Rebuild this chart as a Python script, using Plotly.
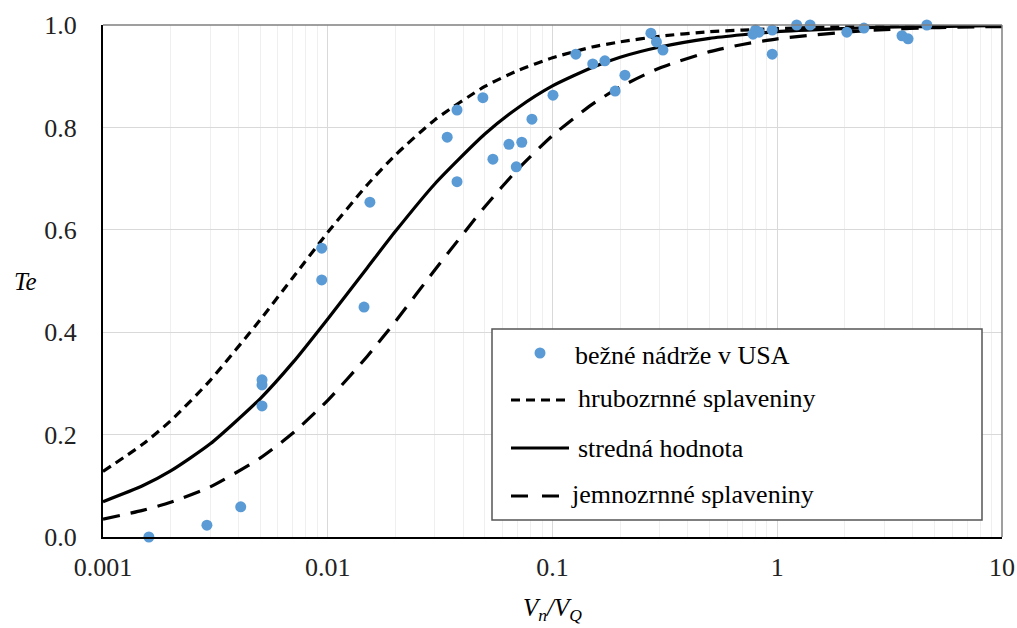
import plotly.graph_objects as go

# ---- data ----
curve_x = [0.001, 0.0015, 0.002, 0.003, 0.005, 0.007, 0.01, 0.015, 0.02, 0.03, 0.05, 0.07,
           0.1, 0.15, 0.2, 0.3, 0.5, 0.7, 1, 2, 3, 5, 10]
coarse_te = [0.128, 0.181, 0.227, 0.306, 0.424, 0.507, 0.595, 0.688, 0.746, 0.815, 0.880, 0.911,
             0.936, 0.957, 0.967, 0.978, 0.987, 0.990, 0.993, 0.997, 0.998, 0.999, 0.999]
mean_te = [0.069, 0.100, 0.129, 0.182, 0.270, 0.341, 0.426, 0.526, 0.597, 0.690, 0.787, 0.838,
           0.881, 0.917, 0.937, 0.957, 0.974, 0.981, 0.987, 0.993, 0.996, 0.997, 0.999]
fine_te = [0.035, 0.052, 0.068, 0.098, 0.154, 0.203, 0.267, 0.353, 0.421, 0.522, 0.645, 0.718,
           0.784, 0.845, 0.879, 0.916, 0.948, 0.962, 0.973, 0.986, 0.991, 0.995, 0.997]

usa_x = [0.0016, 0.0029, 0.0041, 0.0051, 0.0051, 0.0051, 0.0094, 0.0094, 0.0145, 0.0154,
         0.034, 0.0376, 0.0376, 0.049, 0.0543, 0.064, 0.069, 0.073, 0.081, 0.1005,
         0.127, 0.151, 0.171, 0.19, 0.21, 0.274, 0.29, 0.31, 0.78, 0.80,
         0.83, 0.95, 0.95, 1.22, 1.40, 2.04, 2.43, 3.59, 3.82, 4.63]
usa_te = [0.0, 0.023, 0.059, 0.307, 0.297, 0.256, 0.564, 0.502, 0.449, 0.654,
          0.781, 0.834, 0.694, 0.858, 0.738, 0.767, 0.723, 0.771, 0.816, 0.863,
          0.943, 0.924, 0.930, 0.871, 0.902, 0.984, 0.967, 0.951, 0.982, 0.99,
          0.986, 0.99, 0.943, 1.0, 1.0, 0.986, 0.994, 0.979, 0.973, 1.0]

x_tickvals = [0.001, 0.01, 0.1, 1, 10]
x_ticktext = ["0.001", "0.01", "0.1", "1", "10"]

legend_labels = ["bežné nádrže v USA", "hrubozrnné splaveniny", "stredná hodnota", "jemnozrnné splaveniny"]

# ---- layout geometry ----
W, H = 1017, 628
L, R, T, B = 103, 15, 25, 91
PW, PH = W - L - R, H - T - B
FONT = '"Liberation Serif", "DejaVu Serif", serif'
BLUE = "#5B9BD5"

def pxx(p):
    return (p - L) / PW

def pxy(p):
    return (H - B - p) / PH

fig = go.Figure()
fig.add_trace(go.Scatter(x=curve_x, y=coarse_te, mode="lines", name=legend_labels[1],
                         line=dict(color="black", width=3.2, dash="9px,6px", shape="spline", smoothing=0.6)))
fig.add_trace(go.Scatter(x=curve_x, y=mean_te, mode="lines", name=legend_labels[2],
                         line=dict(color="black", width=3.2, shape="spline", smoothing=0.6)))
fig.add_trace(go.Scatter(x=curve_x, y=fine_te, mode="lines", name=legend_labels[3],
                         line=dict(color="black", width=3.2, dash="17px,11px", shape="spline", smoothing=0.6)))
fig.add_trace(go.Scatter(x=usa_x, y=usa_te, mode="markers", name=legend_labels[0],
                         marker=dict(color=BLUE, size=11), cliponaxis=False))

shapes = []
shapes.append(dict(type="line", xref="paper", yref="paper", x0=0, x1=1, y0=1, y1=1,
                   line=dict(color="#7f7f7f", width=1.5)))
shapes.append(dict(type="line", xref="paper", yref="paper", x0=1, x1=1, y0=0, y1=1,
                   line=dict(color="#7f7f7f", width=1.5)))
shapes.append(dict(type="rect", xref="paper", yref="paper", x0=pxx(492), x1=pxx(982),
                   y0=pxy(520), y1=pxy(329), line=dict(color="#555555", width=1.5),
                   fillcolor="white", layer="above"))
r = 5.5
shapes.append(dict(type="circle", xref="paper", yref="paper", x0=pxx(540 - r), x1=pxx(540 + r),
                   y0=pxy(353 + r), y1=pxy(353 - r), fillcolor=BLUE, line=dict(width=0), layer="above"))
shapes.append(dict(type="line", xref="paper", yref="paper", x0=pxx(511), x1=pxx(567),
                   y0=pxy(400), y1=pxy(400), line=dict(color="black", width=3.2, dash="9px,6px"), layer="above"))
shapes.append(dict(type="line", xref="paper", yref="paper", x0=pxx(511), x1=pxx(569),
                   y0=pxy(448), y1=pxy(448), line=dict(color="black", width=3.2), layer="above"))
shapes.append(dict(type="line", xref="paper", yref="paper", x0=pxx(511), x1=pxx(559),
                   y0=pxy(496), y1=pxy(496), line=dict(color="black", width=3.2, dash="17px,14px"), layer="above"))

annotations = []
leg_pos = [(573, 355), (576, 398), (576, 448), (569, 494)]
for lab, (lx, ly) in zip(legend_labels, leg_pos):
    annotations.append(dict(text=lab, xref="paper", yref="paper", x=pxx(lx), y=pxy(ly),
                            xanchor="left", yanchor="middle", showarrow=False,
                            font=dict(family=FONT, size=26, color="black")))
annotations.append(dict(text="<i>Te</i>", xref="paper", yref="paper", x=pxx(25), y=pxy(281),
                        xanchor="center", yanchor="middle", showarrow=False,
                        font=dict(family=FONT, size=25, color="black")))
annotations.append(dict(text="<i>V<sub>n</sub>/V<sub>Q</sub></i>", xref="paper", yref="paper",
                        x=0.5, y=pxy(609), xanchor="center", yanchor="middle", showarrow=False,
                        font=dict(family=FONT, size=25, color="black")))

fig.update_layout(
    template="none",
    width=W, height=H,
    margin=dict(l=L, r=R, t=T, b=B, pad=0),
    paper_bgcolor="white", plot_bgcolor="white",
    showlegend=False,
    shapes=shapes, annotations=annotations,
    font=dict(family=FONT, size=26, color="#222222"),
)
fig.update_xaxes(type="log", range=[-3, 1], tickvals=x_tickvals, ticktext=x_ticktext,
                 automargin=False,
                 showgrid=True, gridcolor="#d9d9d9", gridwidth=1,
                 minor=dict(dtick="D1", showgrid=True, gridcolor="#efefef", gridwidth=1, ticks=""),
                 showline=True, linecolor="black", linewidth=2, ticks="",
                 ticklabelstandoff=6, zeroline=False,
                 tickfont=dict(family=FONT, size=26, color="#222222"))
fig.update_yaxes(range=[0, 1], dtick=0.2, tickformat=".1f", automargin=False,
                 showgrid=True, gridcolor="#d9d9d9", gridwidth=1,
                 showline=True, linecolor="black", linewidth=2, ticks="",
                 ticklabelstandoff=19, zeroline=False,
                 tickfont=dict(family=FONT, size=26, color="#222222"))

fig.write_html("out.html")
